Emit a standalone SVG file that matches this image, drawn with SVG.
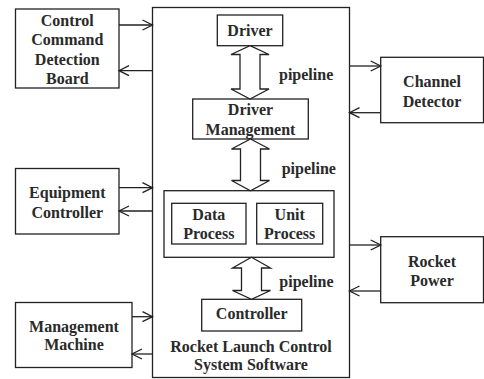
<svg xmlns="http://www.w3.org/2000/svg" width="484" height="379" viewBox="0 0 484 379">
  <defs>
    <marker id="open" markerWidth="12" markerHeight="12" refX="10" refY="5" orient="auto" markerUnits="userSpaceOnUse" overflow="visible">
      <path d="M0,0 L10,5 L0,10" fill="none" stroke="#222" stroke-width="1.3"/>
    </marker>
  </defs>
  <style>
    rect { fill: #fff; stroke: #222; stroke-width: 1.3; }
    .link { stroke: #222; stroke-width: 1.3; fill: none; marker-end: url(#open); }
    .pipe { fill: #fff; stroke: #222; stroke-width: 1.3; stroke-linejoin: miter; }
    text { font-family: "Liberation Serif", "Times New Roman", serif; font-weight: bold; font-size: 16px; fill: #2a2a2a; }
    .c { text-anchor: middle; }
  </style>
  <rect width="484" height="379" style="fill:#fff;stroke:none"/>

  <!-- software container -->
  <g id="software">
    <rect x="152.5" y="7.5" width="197" height="370"/>
    <text class="c" x="251" y="352">Rocket Launch Control</text>
    <text class="c" x="251" y="370">System Software</text>
  </g>

  <g id="ccdb">
    <rect x="15.5" y="9" width="103.5" height="79"/>
    <text class="c" x="67.3" y="26">Control</text>
    <text class="c" x="67.3" y="45.3">Command</text>
    <text class="c" x="67.3" y="64.6">Detection</text>
    <text class="c" x="67.3" y="84">Board</text>
  </g>

  <g id="equipment">
    <rect x="15.5" y="168.5" width="103.5" height="65.5"/>
    <text class="c" x="67.3" y="197.5">Equipment</text>
    <text class="c" x="67.3" y="217.5">Controller</text>
  </g>

  <g id="management">
    <rect x="15.5" y="302.5" width="116.5" height="65"/>
    <text class="c" x="74" y="332">Management</text>
    <text class="c" x="74" y="350">Machine</text>
  </g>

  <g id="channel">
    <rect x="380.7" y="57.3" width="102.8" height="65.4"/>
    <text class="c" x="432" y="87">Channel</text>
    <text class="c" x="432" y="107">Detector</text>
  </g>

  <g id="power">
    <rect x="380.7" y="236.7" width="102.8" height="66"/>
    <text class="c" x="432" y="267">Rocket</text>
    <text class="c" x="432" y="285.5">Power</text>
  </g>

  <g id="driver">
    <rect x="217.3" y="15" width="65.4" height="30.7"/>
    <text class="c" x="250" y="36">Driver</text>
  </g>

  <g id="driver-management">
    <rect x="192.7" y="99" width="115.6" height="40"/>
    <text class="c" x="250.5" y="115">Driver</text>
    <text class="c" x="250.5" y="135">Management</text>
  </g>

  <g id="process">
    <rect x="164" y="190.7" width="170" height="66.6"/>
    <g id="data-process">
      <rect x="171.7" y="203.3" width="74.3" height="40.7"/>
      <text class="c" x="208.8" y="220">Data</text>
      <text class="c" x="208.8" y="238.5">Process</text>
    </g>
    <g id="unit-process">
      <rect x="256.7" y="203.3" width="66" height="40.7"/>
      <text class="c" x="289.7" y="220">Unit</text>
      <text class="c" x="289.7" y="238.5">Process</text>
    </g>
  </g>

  <g id="controller">
    <rect x="201.7" y="299.3" width="100" height="31.7"/>
    <text class="c" x="251.7" y="319">Controller</text>
  </g>

  <g id="connectors">
    <!-- external links -->
    <line class="link" x1="119" y1="25" x2="152.5" y2="25"/>
    <line class="link" x1="152.5" y1="70.7" x2="119" y2="70.7"/>
    <line class="link" x1="119" y1="187.7" x2="152.5" y2="187.7"/>
    <line class="link" x1="152.5" y1="211" x2="119" y2="211"/>
    <line class="link" x1="132" y1="316.7" x2="152.5" y2="316.7"/>
    <line class="link" x1="152.5" y1="354" x2="132" y2="354"/>
    <line class="link" x1="349.5" y1="66" x2="380.7" y2="66"/>
    <line class="link" x1="380.7" y1="112.7" x2="349.5" y2="112.7"/>
    <line class="link" x1="349.5" y1="245" x2="380.7" y2="245"/>
    <line class="link" x1="380.7" y1="291" x2="349.5" y2="291"/>

    <!-- pipelines -->
    <polygon class="pipe" points="250,45.7 269,54.5 260,54.5 260,89 269,89 250,99 231,89 240,89 240,54.5 231,54.5"/>
    <polygon class="pipe" points="250.5,139 269.5,149 260.5,149 260.5,180.5 269.5,180.5 250.5,190.7 231.5,180.5 240.5,180.5 240.5,149 231.5,149"/>
    <polygon class="pipe" points="251.5,257.3 270.5,268 261.5,268 261.5,290.5 270.5,290.5 251.5,299.3 232.5,290.5 241.5,290.5 241.5,268 232.5,268"/>
    <text x="279" y="80">pipeline</text>
    <text x="281.7" y="173.5">pipeline</text>
    <text x="279.3" y="287">pipeline</text>
  </g>
</svg>
